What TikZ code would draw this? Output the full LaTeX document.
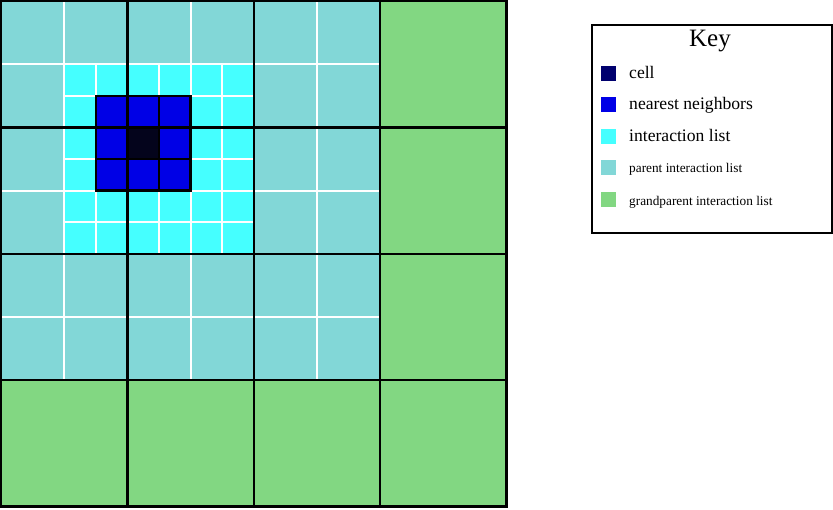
\documentclass[tikz,border=0pt]{standalone}
\usepackage{fontspec}
\setmainfont{Liberation Serif}
\usepackage{tikz}
\usetikzlibrary{positioning}
\usepackage{xcolor}

\definecolor{cellgrid}{RGB}{4,4,28}
\definecolor{cellkey}{RGB}{0,0,110}
\definecolor{nbrblue}{RGB}{0,0,230}
\definecolor{ilcyan}{RGB}{69,255,255}
\definecolor{parteal}{RGB}{130,215,215}
\definecolor{gpgreen}{RGB}{130,215,130}

\begin{document}
\begin{tikzpicture}[
  x=1pt, y=-1pt,
  bigline/.style={black, line width=2.4pt, line cap=rect},
  thinline/.style={white, line width=2pt},
  swatch/.style={draw=none, minimum size=15pt, inner sep=0pt},
  keytext/.style={font=\fontsize{17.6}{20}\selectfont, anchor=base west, inner sep=0pt},
  smalltext/.style={font=\fontsize{13.3}{16}\selectfont, anchor=base west, inner sep=0pt}
]
  \useasboundingbox (0,0) rectangle (833,510);

  % Grid in small-cell units (16 x 16)
  \begin{scope}[shift={(1.2,1.2)}, x=31.575pt, y=-31.575pt]
    % Fills
    \fill[parteal] (0,0) rectangle (12,12);
    \fill[gpgreen] (12,0) rectangle (16,16);
    \fill[gpgreen] (0,12) rectangle (12,16);
    \fill[ilcyan] (2,2) rectangle (8,8);
    \fill[nbrblue] (3,3) rectangle (6,6);
    \fill[cellgrid] (4,4) rectangle (5,5);

    % White parent lines
    \foreach \i in {2,6,10} {
      \draw[thinline] (\i,0) -- (\i,12);
      \draw[thinline] (0,\i) -- (12,\i);
    }
    % White interaction lines
    \foreach \i in {3,5,7} {
      \draw[thinline] (\i,2) -- (\i,8);
      \draw[thinline] (2,\i) -- (8,\i);
    }

    % Nearest neighbors box
    \foreach \i in {3,4,5,6} {
      \draw[bigline] (\i,3) -- (\i,6);
      \draw[bigline] (3,\i) -- (6,\i);
    }

    % Big grid
    \foreach \i in {0,4,8,12,16} {
      \draw[bigline] (\i,0) -- (\i,16);
      \draw[bigline] (0,\i) -- (16,\i);
    }
  \end{scope}

  % Key
  \draw[line width=2pt] (591.7,25) rectangle (832,233);
  \node[font=\fontsize{25}{30}\selectfont, anchor=base, inner sep=0pt] (keytitle) at (710,46.7) {Key};

  \node[swatch, fill=cellkey] (swcell) at (608.5,73.5) {};
  \node[swatch, fill=nbrblue] (swnbr) at (608.5,105) {};
  \node[swatch, fill=ilcyan] (swil) at (608.5,136.5) {};
  \node[swatch, fill=parteal] (swpar) at (608.5,167.5) {};
  \node[swatch, fill=gpgreen] (swgp) at (608.5,200) {};

  \node[keytext] (lbcell) at (629,78.7) {cell};
  \node[keytext] (lbnbr) at (629,110) {nearest neighbors};
  \node[keytext] (lbil) at (629,141.7) {interaction list};
  \node[smalltext] (lbpar) at (629,172.7) {parent interaction list};
  \node[smalltext] (lbgp) at (629,205.7) {grandparent interaction list};
\end{tikzpicture}
\end{document}
